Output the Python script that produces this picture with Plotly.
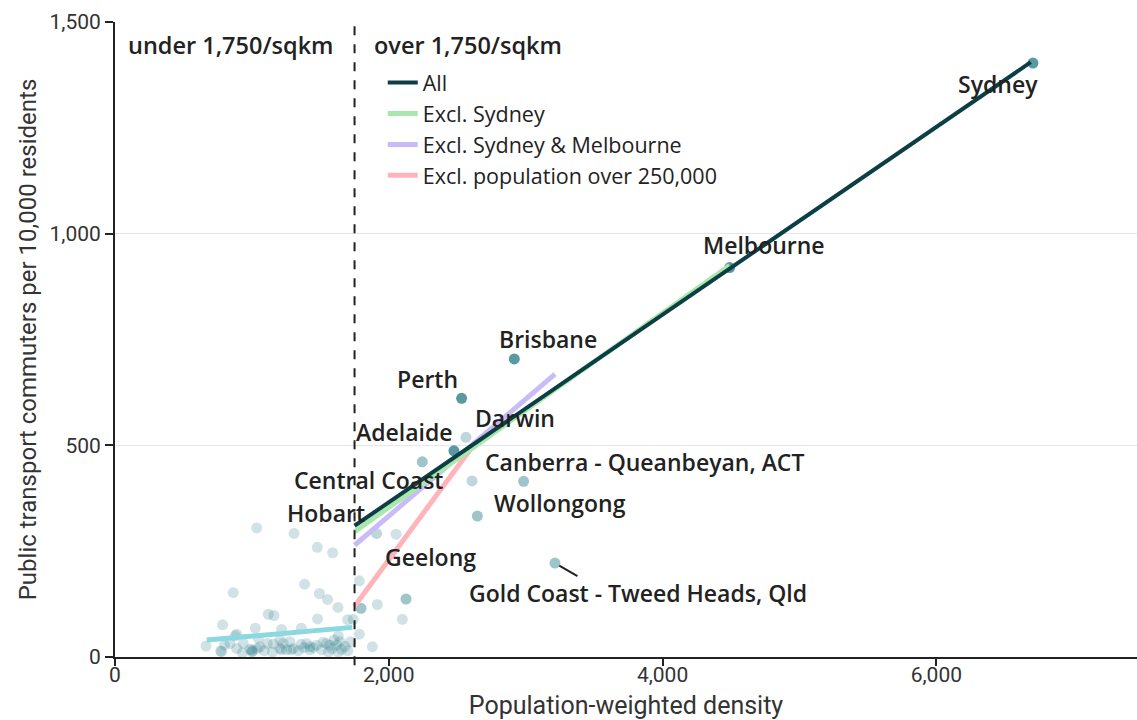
import plotly.graph_objects as go

# ---------------- data ----------------
density = [6706, 4490, 2917, 2532, 2476, 3214, 2985, 2245, 2647, 2126, 1797, 2564, 2608,
           1911, 2053, 1035, 1308, 1478, 1590, 864, 1385, 1493, 1553, 1629, 1785, 1916,
           1120, 1161, 786, 1480, 1700, 1740, 1025, 1217, 1361, 879, 665, 1631, 1785, 1880,
           1720, 2099, 889,
           772, 779, 840, 889, 937, 986, 998, 1006, 1000, 1047, 1059, 1113, 1157, 1205, 1205,
           1229, 1254, 1278, 1302, 1359, 1400, 1424, 1424, 1473, 1509, 1546, 1570, 1583, 1619,
           1643, 1656, 1040, 1090, 1340, 1450, 1520, 1600, 1680, 1700, 930, 1150, 1380, 1560,
           1630, 800, 1217, 1286]
commuters = [1403, 920, 704, 611, 487, 222, 415, 461, 333, 137, 115, 519, 416,
             292, 290, 305, 292, 259, 246, 152, 172, 150, 136, 117, 180, 124,
             101, 98, 76, 90, 88, 89, 68, 65, 68, 50, 26, 50, 54, 24,
             36, 89, 54,
             14, 13, 32, 20, 32, 18, 17, 14, 12, 44, 24, 32, 31, 20, 40,
             32, 17, 36, 20, 30, 32, 17, 24, 28, 17, 32, 28, 20, 28,
             36, 18, 20, 15, 15, 22, 35, 40, 25, 15, 10, 12, 22, 12,
             12, 28, 17, 17]
population = [4900000, 4800000, 2400000, 2000000, 1300000, 680000, 450000, 470000, 300000, 270000,
              350000, 140000, 150000, 220000, 120000] + [60000] * 75

labels = ["Sydney", "Melbourne", "Brisbane", "Perth", "Darwin", "Adelaide",
          "Canberra - Queanbeyan, ACT", "Central Coast", "Wollongong", "Hobart",
          "Geelong", "Gold Coast - Tweed Heads, Qld"]
label_x = [6450, 4741, 3163, 2286, 2922, 2118, 3871, 1855, 3251, 1541, 2308, 3820]
label_y = [1353, 973, 751, 657, 564, 531, 461, 418, 364, 340, 236, 151]

threshold = 1750
tick_x = [0, 2000, 4000, 6000]
tick_y = [0, 500, 1000, 1500]

# fitted trend lines (endpoints)
fit_all_x, fit_all_y = [1750, 6690], [310, 1405]
fit_exsyd_x, fit_exsyd_y = [1750, 4490], [296, 925]
fit_exsydmel_x, fit_exsydmel_y = [1750, 3214], [264, 668]
fit_ex250_x, fit_ex250_y = [1750, 2600], [120, 492]
fit_under_x, fit_under_y = [670, 1733], [40, 70]

# --------------- figure ---------------
DOT = "43,124,135"
def alpha(p):
    if p >= 1000000:
        return 0.78
    if p >= 250000:
        return 0.45
    if p >= 130000:
        return 0.3
    return 0.22

colors = [f"rgba({DOT},{alpha(p)})" for p in population]

fig = go.Figure()
fig.add_trace(go.Scatter(x=density, y=commuters, mode="markers",
                         marker=dict(size=11, color=colors, line=dict(width=0)),
                         showlegend=False, cliponaxis=False, hoverinfo="skip"))

fig.add_trace(go.Scatter(x=fit_under_x, y=fit_under_y, mode="lines",
                         line=dict(color="#8ad9e1", width=5), showlegend=False))
fig.add_trace(go.Scatter(x=fit_ex250_x, y=fit_ex250_y, mode="lines", name="Excl. population over 250,000",
                         line=dict(color="#ffb3ba", width=5), legendrank=4))
fig.add_trace(go.Scatter(x=fit_exsydmel_x, y=fit_exsydmel_y, mode="lines", name="Excl. Sydney & Melbourne",
                         line=dict(color="#c9bbf7", width=5), legendrank=3))
fig.add_trace(go.Scatter(x=fit_exsyd_x, y=fit_exsyd_y, mode="lines", name="Excl. Sydney",
                         line=dict(color="#a9e8ad", width=5), legendrank=2))
fig.add_trace(go.Scatter(x=fit_all_x, y=fit_all_y, mode="lines", name="All",
                         line=dict(color="#0b3e45", width=4), legendrank=1))

# threshold line
fig.add_shape(type="line", x0=threshold, x1=threshold, xref="x", yref="paper", y0=-0.013, y1=1,
              line=dict(color="#222222", width=2, dash="dash"), layer="above")

LABEL_FONT = dict(family="Open Sans", size=23, color="#222222", weight=600)
for t, lx, ly in zip(labels, label_x, label_y):
    fig.add_annotation(x=lx, y=ly, text=t, showarrow=False, font=LABEL_FONT,
                       xanchor="center", yanchor="middle")

# Gold Coast leader line
gi = 5
fig.add_annotation(x=density[gi], y=commuters[gi], text="", showarrow=True, arrowhead=0,
                   arrowwidth=2, arrowcolor="#222222", ax=24, ay=14, standoff=5)

HEAD_FONT = dict(family="Open Sans", size=23.5, color="#222222", weight=600)
fig.add_annotation(x=0.011, y=0.963, xref="paper", yref="paper", text="under 1,750/sqkm",
                   showarrow=False, xanchor="left", yanchor="middle", font=HEAD_FONT)
fig.add_annotation(x=0.251, y=0.963, xref="paper", yref="paper", text="over 1,750/sqkm",
                   showarrow=False, xanchor="left", yanchor="middle", font=HEAD_FONT)

TICK_FONT = dict(family="Roboto", size=21, color="#333333")
fig.update_layout(
    width=1137, height=720,
    margin=dict(l=115, r=0, t=22, b=63),
    plot_bgcolor="white", paper_bgcolor="white",
    font=dict(family="Open Sans", size=21, color="#222222"),
    legend=dict(x=0.262, y=0.937, xanchor="left", yanchor="top", bgcolor="rgba(0,0,0,0)",
                font=dict(family="Open Sans", size=21.5, color="#222222"),
                itemwidth=30),
    xaxis=dict(range=[0, 7466], tickvals=tick_x, ticktext=[f"{v:,}" for v in tick_x],
               showgrid=False, zeroline=False, showline=True, linecolor="#222222", linewidth=2,
               ticks="outside", ticklen=7, tickwidth=2, tickcolor="#222222", tickfont=TICK_FONT,
               ticklabelstandoff=-9,
               title=dict(text="Population-weighted density", font=dict(family="Roboto", size=25, color="#333333"),
                          standoff=11)),
    yaxis=dict(range=[0, 1500], tickvals=tick_y, ticktext=[f"{v:,}" for v in tick_y],
               showgrid=True, gridcolor="#e6e6e6", gridwidth=1, zeroline=False,
               showline=True, linecolor="#222222", linewidth=2,
               ticks="outside", ticklen=8, tickwidth=2, tickcolor="#222222", tickfont=TICK_FONT,
               title=dict(text="Public transport commuters per 10,000 residents",
                          font=dict(family="Roboto", size=24, color="#333333"), standoff=6)),
)

fig.write_html("out.html", config={"displayModeBar": False})
with open("out.html", encoding="utf-8") as f:
    html = f.read()
html = html.replace("<head>", "<head><style>body{margin:0;}</style>", 1)
with open("out.html", "w", encoding="utf-8") as f:
    f.write(html)
